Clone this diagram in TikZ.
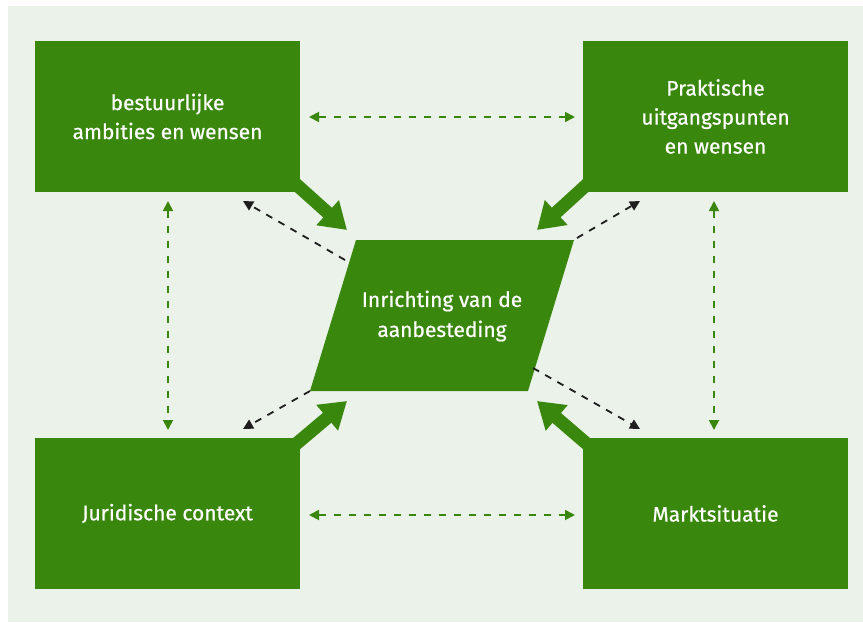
\documentclass[tikz,border=0pt]{standalone}
\usepackage{fontspec}
\setmainfont[FakeBold=0.6]{Fira Sans}
\usetikzlibrary{arrows.meta}
\definecolor{dgreen}{RGB}{58,135,14}
\definecolor{bgc}{RGB}{235,242,234}
\definecolor{dk}{RGB}{30,30,30}
\begin{document}
\begin{tikzpicture}[x=1pt,y=-1pt,
  box/.style={fill=dgreen,draw=none,minimum width=265pt,minimum height=151pt,text=white,align=center,font=\fontsize{21}{29}\selectfont},
  bigarrow/.style={draw=dgreen,line width=13pt,-{Triangle[length=26pt,width=32pt]}},
  gdash/.style={draw=dgreen,line width=1.8pt,dash pattern=on 7pt off 8pt,{Triangle[length=10pt,width=10pt]}-{Triangle[length=10pt,width=10pt]}},
  kdash/.style={draw=dk,line width=1.8pt,dash pattern=on 7pt off 7pt,-{Triangle[length=10pt,width=10pt]}}]
\useasboundingbox (0,0) rectangle (863,622);
\fill[bgc] (8,6) rectangle (863,622);
\node[box] (tl) at (167.5,116.5) {bestuurlijke\\ambities en wensen};
\node[box] (tr) at (715.5,116.5) {Praktische\\uitgangspunten\\en wensen};
\node[box] (bl) at (167.5,513.5) {\raisebox{-5pt}{Juridische context}};
\node[box] (br) at (715.5,513.5) {Marktsituatie};
\fill[dgreen] (356,240) -- (574,240) -- (528,391) -- (310,391) -- cycle;
\node[text=white,align=center,font=\fontsize{21}{30}\selectfont] (mid) at (442,316) {Inrichting van de\\aanbesteding};
\coordinate (p1) at (289,178);
\coordinate (p2) at (594,178);
\coordinate (p3) at (289,450);
\coordinate (p4) at (594,450);
\coordinate (t1) at (347,230);
\coordinate (t2) at (537,230);
\coordinate (t3) at (347,401);
\coordinate (t4) at (537,401);
\draw[bigarrow] (p1) -- (t1);
\draw[bigarrow] (p2) -- (t2);
\draw[bigarrow] (p3) -- (t3);
\draw[bigarrow] (p4) -- (t4);
\coordinate (s1) at (345,260);
\coordinate (e1) at (243,201);
\coordinate (s2) at (577,238);
\coordinate (e2) at (640,201);
\coordinate (s3) at (310,391);
\coordinate (e3) at (243,429);
\coordinate (s4) at (533,368);
\coordinate (e4) at (640,429);
\draw[kdash] (s1) -- (e1);
\draw[kdash] (s2) -- (e2);
\draw[kdash] (s3) -- (e3);
\draw[kdash] (s4) -- (e4);
\coordinate (h1a) at (309,117);
\coordinate (h1b) at (575,117);
\coordinate (h2a) at (309,515);
\coordinate (h2b) at (575,515);
\coordinate (v1a) at (168,201);
\coordinate (v1b) at (168,430);
\coordinate (v2a) at (714,201);
\coordinate (v2b) at (714,430);
\draw[gdash] (h1a) -- (h1b);
\draw[gdash] (h2a) -- (h2b);
\draw[gdash] (v1a) -- (v1b);
\draw[gdash] (v2a) -- (v2b);
\end{tikzpicture}
\end{document}
